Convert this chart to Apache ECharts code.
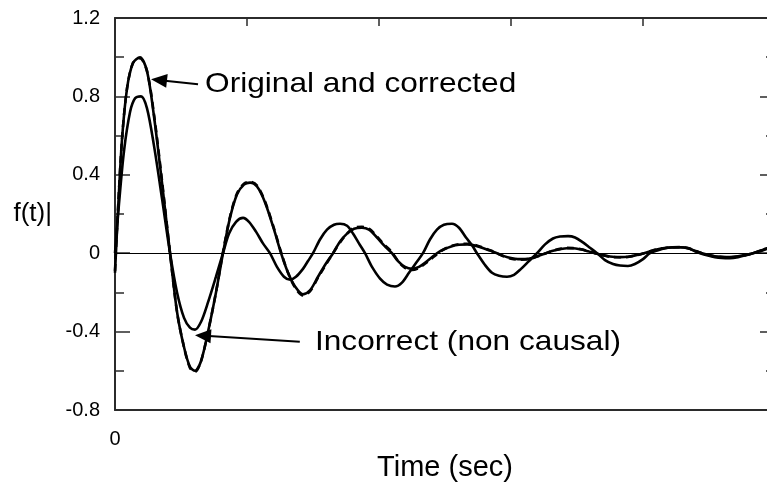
<!DOCTYPE html>
<html>
<head>
<meta charset="utf-8">
<script src="https://cdn.jsdelivr.net/npm/echarts@6/dist/echarts.min.js"></script>
<style>
  html, body { margin: 0; padding: 0; background: #fff; }
  #chart { width: 767px; height: 483px; }
</style>
</head>
<body>
<div id="chart"></div>
<script>
// Time samples (s) for the original / corrected responses
const timeA = [0, 0.023, 0.053, 0.091, 0.136, 0.189, 0.242, 0.295, 0.356, 0.417,
  0.470, 0.523, 0.568, 0.606, 0.652, 0.705, 0.765, 0.818, 0.871, 0.924,
  0.977, 1.023, 1.076, 1.136, 1.205, 1.258, 1.311, 1.364, 1.424, 1.477,
  1.538, 1.591, 1.652, 1.705, 1.758, 1.811, 1.871, 1.924, 1.985, 2.038,
  2.098, 2.144, 2.197, 2.250, 2.303, 2.356, 2.394, 2.439, 2.492, 2.553,
  2.606, 2.667, 2.720, 2.780, 2.841, 2.894, 2.947, 3.000, 3.053, 3.106,
  3.159, 3.220, 3.265, 3.318, 3.371, 3.424, 3.470, 3.523, 3.583, 3.636,
  3.697, 3.750, 3.826, 3.886, 3.947, 4.008, 4.068, 4.129, 4.189, 4.280,
  4.341, 4.394, 4.447, 4.508, 4.568, 4.659, 4.720, 4.780, 4.833, 4.886,
  4.939, 5.000];

const original = [-0.10, 0.22, 0.58, 0.84, 0.97, 1.00, 0.93, 0.70, 0.36, 0.00,
  -0.30, -0.48, -0.58, -0.60, -0.55, -0.40, -0.20, 0.00, 0.18, 0.30,
  0.35, 0.36, 0.34, 0.26, 0.12, 0.00, -0.10, -0.17, -0.21, -0.19,
  -0.12, -0.06, 0.00, 0.06, 0.10, 0.125, 0.13, 0.12, 0.08, 0.04,
  0.00, -0.04, -0.07, -0.08, -0.07, -0.045, -0.025, 0.00, 0.02, 0.036,
  0.043, 0.045, 0.04, 0.028, 0.013, 0.00, -0.015, -0.025, -0.03, -0.03,
  -0.025, -0.01, 0.00, 0.012, 0.02, 0.025, 0.025, 0.02, 0.01, 0.00,
  -0.01, -0.017, -0.02, -0.018, -0.01, 0.00, 0.012, 0.022, 0.028, 0.03,
  0.025, 0.012, 0.00, -0.01, -0.017, -0.02, -0.016, -0.008, 0.00, 0.01,
  0.022, 0.032];

const corrected = [-0.09, 0.23, 0.58, 0.84, 0.97, 0.995, 0.93, 0.71, 0.37, 0.00,
  -0.30, -0.48, -0.585, -0.605, -0.55, -0.40, -0.20, 0.005, 0.185, 0.305,
  0.355, 0.365, 0.345, 0.265, 0.125, 0.005, -0.10, -0.175, -0.215, -0.195,
  -0.125, -0.065, 0.00, 0.055, 0.10, 0.13, 0.135, 0.125, 0.085, 0.045,
  0.005, -0.04, -0.075, -0.085, -0.075, -0.05, -0.03, -0.005, 0.02, 0.038,
  0.046, 0.048, 0.043, 0.03, 0.015, 0.00, -0.017, -0.028, -0.033, -0.032,
  -0.026, -0.012, 0.00, 0.013, 0.022, 0.027, 0.026, 0.021, 0.011, 0.00,
  -0.011, -0.018, -0.021, -0.019, -0.011, 0.00, 0.013, 0.023, 0.029, 0.031,
  0.026, 0.013, 0.00, -0.011, -0.018, -0.021, -0.017, -0.009, 0.00, 0.011,
  0.023, 0.033];

// Time samples (s) for the non-causal response
const timeB = [0, 0.030, 0.068, 0.114, 0.152, 0.197, 0.242, 0.295, 0.356, 0.417,
  0.470, 0.523, 0.568, 0.606, 0.652, 0.705, 0.765, 0.818, 0.864, 0.917,
  0.970, 1.015, 1.068, 1.121, 1.174, 1.227, 1.280, 1.326, 1.371, 1.424,
  1.462, 1.500, 1.553, 1.606, 1.659, 1.705, 1.758, 1.803, 1.848, 1.894,
  1.947, 2.008, 2.061, 2.121, 2.174, 2.227, 2.280, 2.333, 2.386, 2.439,
  2.492, 2.553, 2.606, 2.659, 2.705, 2.742, 2.803, 2.856, 2.909, 2.970,
  3.023, 3.076, 3.136, 3.197, 3.258, 3.318, 3.371, 3.432, 3.485, 3.545,
  3.598, 3.652, 3.712, 3.773, 3.826, 3.886, 3.939, 4.000, 4.053, 4.114,
  4.167, 4.220, 4.280, 4.341, 4.394, 4.432, 4.492, 4.545, 4.598, 4.659,
  4.720, 4.780, 4.833, 4.886, 4.939, 5.000];

const incorrect = [0.00, 0.25, 0.52, 0.72, 0.79, 0.80, 0.74, 0.55, 0.28, 0.00,
  -0.20, -0.33, -0.38, -0.39, -0.35, -0.25, -0.12, 0.00, 0.10, 0.16,
  0.18, 0.16, 0.11, 0.05, 0.00, -0.07, -0.12, -0.135, -0.12, -0.08,
  -0.04, 0.00, 0.07, 0.12, 0.145, 0.15, 0.14, 0.10, 0.05, 0.00,
  -0.07, -0.13, -0.16, -0.17, -0.15, -0.10, -0.05, 0.00, 0.07, 0.12,
  0.145, 0.15, 0.13, 0.08, 0.04, 0.00, -0.06, -0.10, -0.115, -0.12,
  -0.11, -0.08, -0.04, 0.00, 0.045, 0.075, 0.085, 0.087, 0.08, 0.055,
  0.028, 0.00, -0.035, -0.055, -0.063, -0.065, -0.055, -0.03, 0.00, 0.015,
  0.025, 0.03, 0.03, 0.025, 0.01, 0.00, -0.012, -0.02, -0.024, -0.025,
  -0.02, -0.01, 0.00, 0.012, 0.025, 0.035];

// Axis ranges and tick labels
const timeRange = [0, 5];
const timeStep = 1;
const timeTickLabels = { 0: '0' };
const valueRange = [-0.8, 1.2];
const valueStep = 0.4;
const valueTickLabels = ['-0.8', '-0.4', '0', '0.4', '0.8', '1.2'];

// Annotation labels and arrow anchor points, in data units [t, f]
const notes = [
  { text: 'Original and corrected', tip: [0.273, 0.888], tail: [0.629, 0.862], at: [0.682, 0.862] },
  { text: 'Incorrect (non causal)', tip: [0.606, -0.418], tail: [1.40, -0.452], at: [1.515, -0.452] }
];

const FONT = '"Liberation Sans", Arial, Helvetica, sans-serif';
const AXIS_COLOR = '#2b2b2b';
const zip = (xs, ys) => xs.map((x, i) => [x, ys[i]]);

const baseX = {
  type: 'value', min: timeRange[0], max: timeRange[1], interval: timeStep,
  splitLine: { show: false },
  axisLine: { show: true, onZero: false, lineStyle: { color: AXIS_COLOR, width: 2 } }
};
const baseY = {
  type: 'value', min: valueRange[0], max: valueRange[1], interval: valueStep,
  splitLine: { show: false },
  axisLine: { show: true, onZero: false, lineStyle: { color: AXIS_COLOR, width: 2 } },
  axisTick: { show: true, inside: true, length: 15, lineStyle: { color: AXIS_COLOR, width: 1.5 } },
  minorTick: { show: true, splitNumber: 2, length: 9, lineStyle: { color: AXIS_COLOR, width: 1.5 } }
};

const curve = (name, xs, ys, dashed, z) => ({
  name, type: 'line', data: zip(xs, ys), showSymbol: false, symbol: 'none',
  smooth: 0.3, z,
  lineStyle: { color: '#000', width: 2.6, type: dashed ? [7, 5] : 'solid' }
});

const option = {
  animation: false,
  backgroundColor: '#fff',
  grid: { left: 115, right: -8, top: 18, bottom: 73, containLabel: false, outerBoundsMode: 'none' },
  xAxis: [
    Object.assign({}, baseX, {
      position: 'bottom',
      axisTick: { show: false },
      axisLabel: {
        show: true, margin: 19, fontSize: 20, color: '#000', fontFamily: FONT,
        formatter: v => (timeTickLabels[v] !== undefined ? timeTickLabels[v] : '')
      },
      name: 'Time (sec)', nameLocation: 'middle', nameGap: 37,
      nameTextStyle: { fontSize: 29, color: '#000', fontFamily: FONT }
    }),
    Object.assign({}, baseX, {
      position: 'top',
      axisTick: { show: true, inside: true, length: 8, lineStyle: { color: AXIS_COLOR, width: 1.5 } },
      axisLabel: { show: false }
    })
  ],
  yAxis: [
    Object.assign({}, baseY, {
      position: 'left',
      axisLabel: {
        show: true, margin: 15, fontSize: 20, color: '#000', fontFamily: FONT,
        formatter: v => {
          const i = Math.round((v - valueRange[0]) / valueStep);
          return valueTickLabels[i] || '';
        }
      },
      name: 'f(t)|', nameLocation: 'middle', nameRotate: 0, nameGap: 63,
      nameTextStyle: { fontSize: 26, color: '#000', fontFamily: FONT, padding: [4, 0, 0, 0] }
    }),
    Object.assign({}, baseY, { position: 'right', axisLabel: { show: false } })
  ],
  series: [
    curve('Incorrect (non causal)', timeB, incorrect, false, 3),
    curve('Corrected', timeA, corrected, true, 2),
    Object.assign(curve('Original', timeA, original, false, 4), {
      markLine: {
        silent: true, symbol: 'none', animation: false,
        label: { show: false },
        lineStyle: { color: '#000', width: 1, type: 'solid' },
        data: [{ yAxis: 0 }]
      }
    })
  ]
};

const chart = echarts.init(document.getElementById('chart'), null, { renderer: 'canvas' });
chart.setOption(option);

// Annotation arrows and labels, placed through the chart's own scales
const toPx = p => chart.convertToPixel({ xAxisIndex: 0, yAxisIndex: 0 }, p);
const graphic = [];
notes.forEach(n => {
  const T = toPx(n.tip), S = toPx(n.tail), L = toPx(n.at);
  const dx = T[0] - S[0], dy = T[1] - S[1];
  const len = Math.hypot(dx, dy);
  const ux = dx / len, uy = dy / len;
  const headLen = 16, headHalf = 7;
  const bx = T[0] - ux * headLen, by = T[1] - uy * headLen;
  graphic.push({
    type: 'line', z: 10,
    shape: { x1: S[0], y1: S[1], x2: bx + ux * 2, y2: by + uy * 2 },
    style: { stroke: '#000', lineWidth: 2 }
  });
  graphic.push({
    type: 'polygon', z: 10,
    shape: { points: [T, [bx - uy * headHalf, by + ux * headHalf], [bx + uy * headHalf, by - ux * headHalf]] },
    style: { fill: '#000' }
  });
  graphic.push({
    type: 'text', z: 10, x: L[0], y: L[1], scaleX: 1.13,
    style: { text: n.text, x: 0, y: 0, fill: '#000', font: '28px ' + FONT, textVerticalAlign: 'middle', textAlign: 'left' }
  });
});
chart.setOption({ graphic });
</script>
</body>
</html>
